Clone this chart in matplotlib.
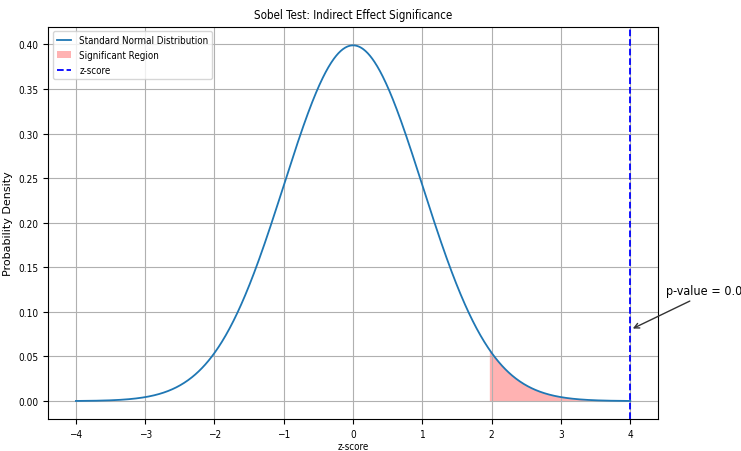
import matplotlib
matplotlib.use("Agg")
import matplotlib.pyplot as plt
import numpy as np

plt.rcParams['font.family'] = ['DejaVu Sans']
plt.rcParams['font.stretch'] = 'condensed'

# distribution parameters and test result
mean = 0.0
sd = 1.0
x_min, x_max = -4, 4
z_critical = 1.96
z_score = 4.0
p_value_text = "p-value = 0.000"
annot_point = (4.0, 0.08)
annot_text_pos = (4.52, 0.12)

x = np.linspace(x_min, x_max, 1000)
y = np.exp(-0.5 * ((x - mean) / sd) ** 2) / (sd * np.sqrt(2 * np.pi))

fig = plt.figure(figsize=(7.41, 4.52), dpi=100)
ax = fig.add_axes([0.065, 0.071, 0.823, 0.868])

ax.plot(x, y, color="#1f77b4", lw=1.3, label="Standard Normal Distribution")
ax.fill_between(x, 0, y, where=(x >= z_critical), color="red", alpha=0.3,
                lw=0, label="Significant Region")
ax.axvline(z_score, color="blue", ls="--", lw=1.3, label="z-score")

ax.annotate(p_value_text, xy=annot_point, xytext=annot_text_pos,
            arrowprops=dict(arrowstyle="->", color="#333333", lw=1.0),
            fontsize=9, annotation_clip=False)

ax.set_ylim(-0.02, 0.42)
ax.set_yticks(np.arange(0, 0.41, 0.05))
ax.set_title("Sobel Test: Indirect Effect Significance", fontsize=8.3)
ax.set_xlabel("z-score", fontsize=7, labelpad=2)
ax.set_ylabel("Probability Density", fontsize=8, fontstretch='normal', labelpad=4)
ax.tick_params(labelsize=7.2)
ax.grid(True)
ax.legend(loc="upper left", fontsize=7, handlelength=1.5)

fig.savefig("out.png", dpi=100)
